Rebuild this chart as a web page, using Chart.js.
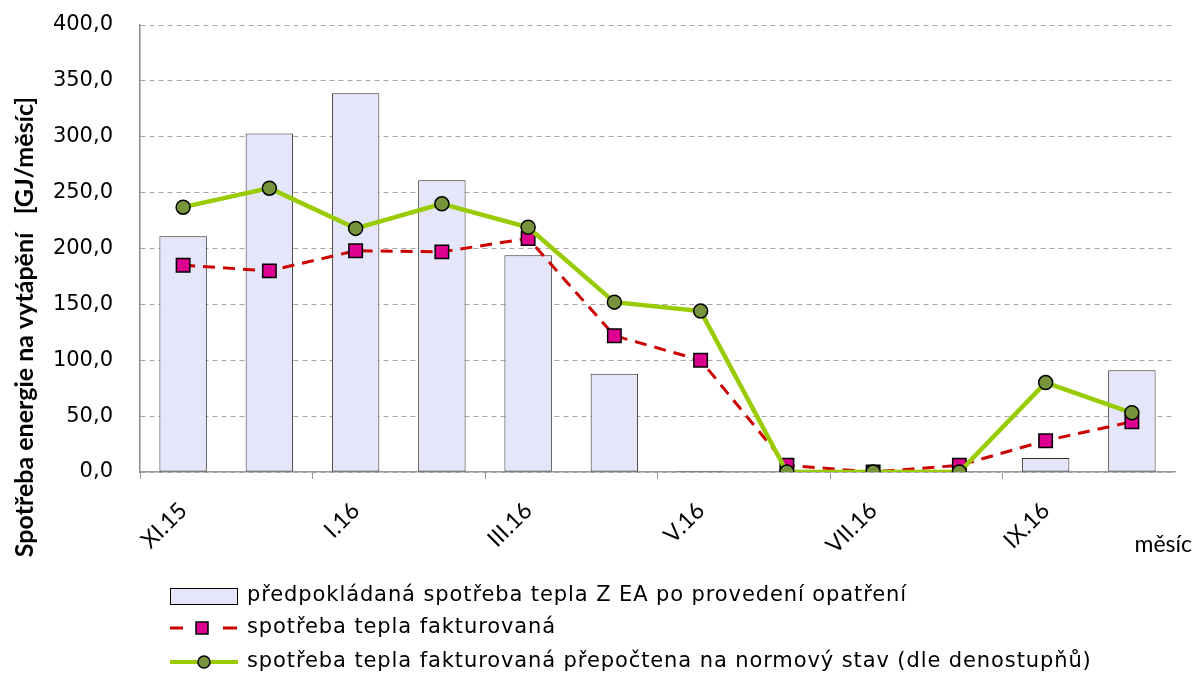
<!DOCTYPE html>
<html lang="cs">
<head>
    <meta charset="UTF-8">
    <title>Spotřeba tepla</title>
    <script src="https://cdn.jsdelivr.net/npm/chart.js"></script>
    <style>
        body { margin: 0; background: #ffffff; }
        .chart-container { width: 1202px; height: 675px; }
    </style>
</head>
<body>
    <div class="chart-container">
        <canvas id="heatChart"></canvas>
    </div>

    <script>
        // data (GJ/měsíc)
        const months = ['XI.15', 'XII.15', 'I.16', 'II.16', 'III.16', 'IV.16', 'V.16', 'VI.16', 'VII.16', 'VIII.16', 'IX.16', 'X.16'];
        const predicted = [211, 303, 339, 261, 194, 88, 1, 0, 0, 0, 12.5, 91];
        const invoiced = [185, 180, 198, 197, 209, 122, 100, 6, 0, 6, 28, 45];
        const normalized = [237, 254, 218, 240, 219, 152, 144, 0, 0, 0, 80, 53];

        const legendLabels = [
            'předpokládaná spotřeba tepla Z EA po provedení opatření',
            'spotřeba tepla fakturovaná',
            'spotřeba tepla fakturovaná přepočtena na normový stav (dle denostupňů)'
        ];
        const yTitle = 'Spotřeba energie na vytápění   [GJ/měsíc]';
        const xTitle = 'měsíc';

        const barFill = '#E6E6FA';
        const barBorder = '#2e2e2e';
        const redLine = '#CC0000';
        const squareFill = '#DD0090';
        const greenLine = '#99CC00';
        const circleFill = '#77933C';

        // titles + legend drawn straight on the canvas
        const extrasPlugin = {
            id: 'extras',
            afterDraw(chart) {
                const ctx = chart.ctx;
                ctx.save();
                ctx.fillStyle = '#000';

                // y title
                ctx.translate(25, 327);
                ctx.rotate(-Math.PI / 2);
                ctx.font = 'bold 25px Lato';
                ctx.textAlign = 'center';
                ctx.textBaseline = 'middle';
                ctx.fillText(yTitle, 0, 0);
                ctx.setTransform(1, 0, 0, 1, 0, 0);

                // x title
                ctx.font = '23px Lato';
                ctx.textAlign = 'right';
                ctx.fillText(xTitle, 1192, 545);

                // legend
                const rows = [596, 628, 662];
                ctx.textAlign = 'left';
                ctx.font = '21px "DejaVu Sans"';
                ctx.letterSpacing = '0.9px';
                legendLabels.forEach((txt, i) => ctx.fillText(txt, 247, rows[i]));
                ctx.letterSpacing = '0px';

                // bar symbol
                ctx.fillStyle = barFill;
                ctx.strokeStyle = '#000';
                ctx.lineWidth = 1;
                ctx.fillRect(170, rows[0] - 8, 67, 16);
                ctx.strokeRect(170.5, rows[0] - 7.5, 67, 16);

                // dashed red + square
                ctx.strokeStyle = redLine;
                ctx.lineWidth = 3;
                ctx.beginPath();
                ctx.moveTo(170, rows[1]); ctx.lineTo(183, rows[1]);
                ctx.moveTo(223, rows[1]); ctx.lineTo(237, rows[1]);
                ctx.stroke();
                ctx.fillStyle = squareFill;
                ctx.strokeStyle = '#000';
                ctx.lineWidth = 1.5;
                ctx.fillRect(196, rows[1] - 6, 12, 12);
                ctx.strokeRect(196, rows[1] - 6, 12, 12);

                // green line + circle
                ctx.strokeStyle = greenLine;
                ctx.lineWidth = 4;
                ctx.beginPath();
                ctx.moveTo(170, rows[2]); ctx.lineTo(238, rows[2]);
                ctx.stroke();
                ctx.fillStyle = circleFill;
                ctx.strokeStyle = '#000';
                ctx.lineWidth = 1.5;
                ctx.beginPath();
                ctx.arc(204, rows[2], 6, 0, Math.PI * 2);
                ctx.fill();
                ctx.stroke();

                ctx.restore();
            }
        };

        const ctx = document.getElementById('heatChart').getContext('2d');
        new Chart(ctx, {
            type: 'bar',
            data: {
                labels: months,
                datasets: [
                    {
                        type: 'line',
                        label: legendLabels[2],
                        data: normalized,
                        order: 0,
                        borderColor: greenLine,
                        borderWidth: 4.5,
                        tension: 0,
                        pointStyle: 'circle',
                        pointRadius: 7,
                        pointBackgroundColor: circleFill,
                        pointBorderColor: '#000',
                        pointBorderWidth: 1.5
                    },
                    {
                        type: 'line',
                        label: legendLabels[1],
                        data: invoiced,
                        order: 1,
                        borderColor: redLine,
                        borderWidth: 3,
                        borderDash: [12, 8],
                        tension: 0,
                        pointStyle: 'rect',
                        pointRadius: 9.5,
                        pointBackgroundColor: squareFill,
                        pointBorderColor: '#000',
                        pointBorderWidth: 1.5
                    },
                    {
                        label: legendLabels[0],
                        data: predicted,
                        order: 2,
                        backgroundColor: barFill,
                        borderColor: barBorder,
                        borderWidth: 1,
                        borderSkipped: false,
                        categoryPercentage: 1,
                        barPercentage: 0.55
                    }
                ]
            },
            options: {
                responsive: true,
                maintainAspectRatio: false,
                animation: false,
                layout: { autoPadding: false, padding: { top: 25, right: 27, left: 0, bottom: 0 } },
                plugins: {
                    legend: { display: false },
                    tooltip: { enabled: false }
                },
                scales: {
                    x: {
                        afterFit(scale) { scale.height = 203; },
                        grid: {
                            offset: true,
                            drawOnChartArea: false,
                            drawTicks: true,
                            tickLength: 7,
                            color: (c) => (c.index % 2 === 0 ? '#9a9a9a' : 'rgba(0,0,0,0)')
                        },
                        border: { color: '#9a9a9a', width: 1.5 },
                        ticks: {
                            autoSkip: false,
                            minRotation: 45,
                            maxRotation: 45,
                            padding: 18,
                            color: '#000',
                            font: { family: 'Lato', size: 23 },
                            callback(value, index) { return index % 2 === 0 ? months[index] : ''; }
                        }
                    },
                    y: {
                        min: 0,
                        max: 400,
                        afterFit(scale) { scale.width = 140; },
                        // invisible tick marks give the gap between labels and axis
                        grid: { color: '#a6a6a6', drawTicks: true, tickLength: 27, tickColor: 'rgba(0,0,0,0)' },
                        border: { color: '#8a8a8a', width: 1.5, dash: [5, 4] },
                        ticks: {
                            stepSize: 50,
                            padding: 0,
                            color: '#000',
                            font: { family: 'DejaVu Sans', size: 21 },
                            callback: (v) => v.toFixed(1).replace('.', ',')
                        }
                    }
                }
            },
            plugins: [extrasPlugin]
        });
    </script>
</body>
</html>
